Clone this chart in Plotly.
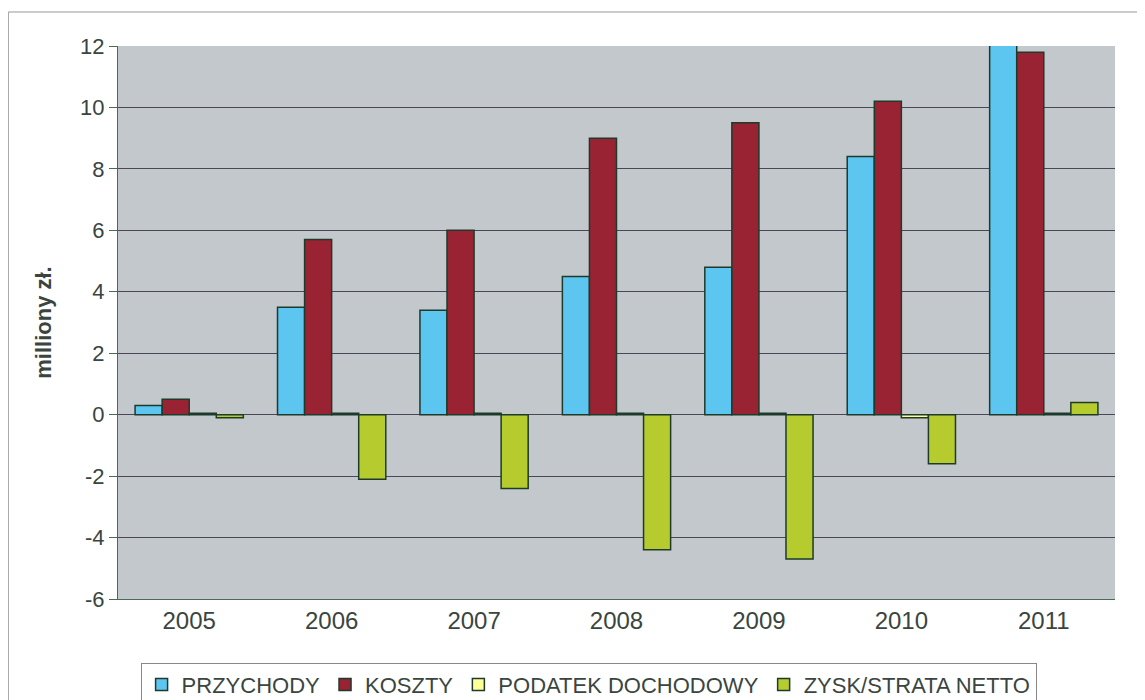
import plotly.graph_objects as go

years = ["2005", "2006", "2007", "2008", "2009", "2010", "2011"]
przychody = [0.3, 3.5, 3.4, 4.5, 4.8, 8.4, 12.1]
koszty = [0.5, 5.7, 6.0, 9.0, 9.5, 10.2, 11.8]
podatek = [0.05, 0.05, 0.05, 0.05, 0.05, -0.1, 0.05]
zysk = [-0.1, -2.1, -2.4, -4.4, -4.7, -1.6, 0.4]

y_tickvals = [-6, -4, -2, 0, 2, 4, 6, 8, 10, 12]
y_ticktext = ["-6", "-4", "-2", "0", "2", "4", "6", "8", "10", "12"]

series = [
    ("PRZYCHODY", przychody, "#5cc6f0"),
    ("KOSZTY", koszty, "#9a2333"),
    ("PODATEK DOCHODOWY", podatek, "#ffff99"),
    ("ZYSK/STRATA NETTO", zysk, "#b6cc2e"),
]

txtcol = "#3a4540"

fig = go.Figure()
for name, vals, col in series:
    fig.add_trace(go.Bar(
        x=years, y=vals, name=name,
        marker=dict(color=col, line=dict(color="#1e3a2a", width=1.5)),
    ))

fig.update_layout(
    width=1137, height=692,
    barmode="group", bargap=0.24, bargroupgap=0,
    paper_bgcolor="white", plot_bgcolor="#c3c8cd",
    margin=dict(l=110, r=30, t=38, b=101, autoexpand=False),
    font=dict(family="Liberation Sans, Arial, sans-serif", size=22, color=txtcol),
    xaxis=dict(showgrid=False, showline=True, linecolor="#4a6a55", linewidth=1,
               ticks="", tickfont=dict(size=24, color=txtcol)),
    yaxis=dict(range=[-6, 12], tickvals=y_tickvals, ticktext=y_ticktext,
               showgrid=True, gridcolor="#4a4858", gridwidth=1,
               zeroline=True, zerolinecolor="#4a4858", zerolinewidth=1,
               showline=True, linecolor="#4a6a55", linewidth=1,
               ticks="outside", ticklen=8, tickcolor="#4a6a55",
               tickfont=dict(size=22, color=txtcol),
               title=dict(text="<b>milliony zł.</b>", font=dict(size=22, color=txtcol), standoff=22)),
    legend=dict(orientation="h", x=0.472, xanchor="center",
                yref="container", y=0.054, yanchor="top",
                bordercolor="#888888", borderwidth=1, font=dict(size=22, color=txtcol),
                itemwidth=30, traceorder="normal", tracegroupgap=0),
    showlegend=True,
)

# outer chart-area frame
fig.add_shape(type="rect", xref="paper", yref="paper",
              x0=-0.11, x1=1.05, y0=-0.2, y1=1.0615,
              line=dict(color="#999999", width=1), fillcolor="rgba(0,0,0,0)", layer="below")

fig.write_html("out.html")
